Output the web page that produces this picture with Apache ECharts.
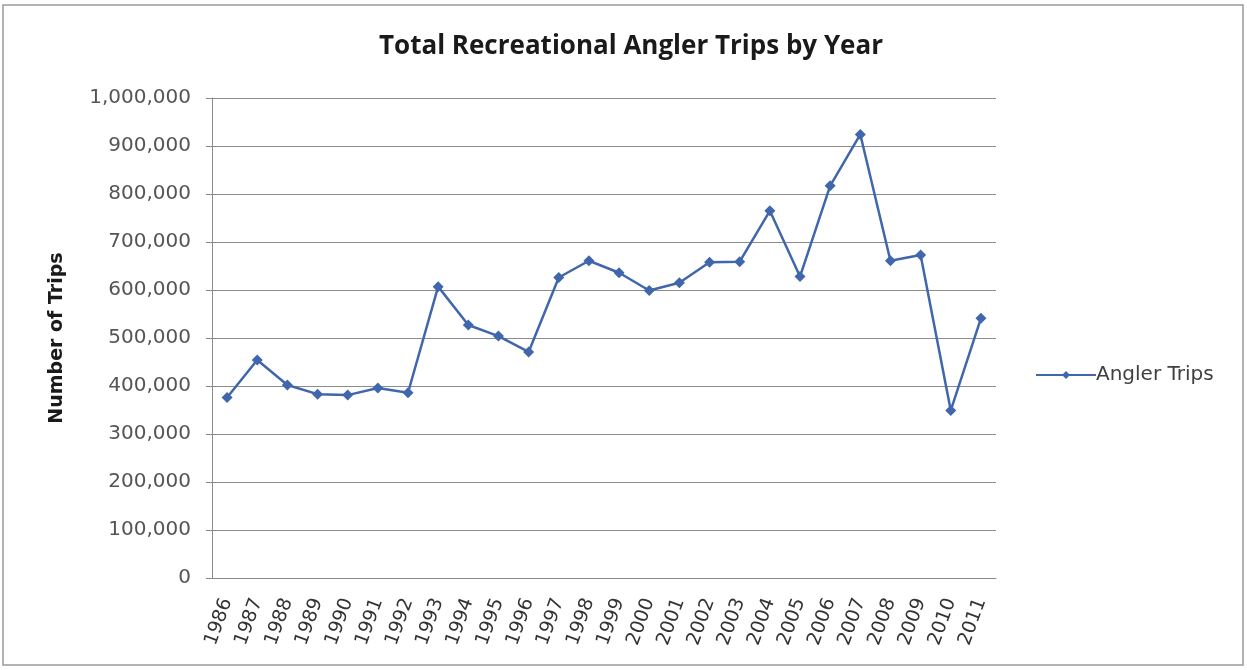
<!DOCTYPE html>
<html>
<head>
<meta charset="utf-8">
<script src="https://cdn.jsdelivr.net/npm/echarts@6/dist/echarts.min.js"></script>
<style>
  html, body { margin: 0; padding: 0; background: #fff; }
  #chart { width: 1247px; height: 670px; }
</style>
</head>
<body>
<div id="chart"></div>
<script>
// Yearly recreational angler trip totals
const years = ['1986','1987','1988','1989','1990','1991','1992','1993','1994','1995','1996','1997','1998',
               '1999','2000','2001','2002','2003','2004','2005','2006','2007','2008','2009','2010','2011'];
const anglerTrips = [376000, 454000, 402000, 383000, 381000, 396000, 386000, 607000, 527000, 504000, 471000, 626000, 661000,
                     636000, 599000, 615000, 658000, 659000, 765000, 628000, 817000, 924000, 661000, 673000, 349000, 541000];
const seriesName = 'Angler Trips';
const chartTitle = 'Total Recreational Angler Trips by Year';
const yAxisName = 'Number of Trips';

const titleFont = '"Open Sans", "Noto Sans", sans-serif';
const bodyFont = '"DejaVu Sans", "Noto Sans", sans-serif';
const lineColor = '#4066ab';

const chart = echarts.init(document.getElementById('chart'), null, { renderer: 'canvas' });
chart.setOption({
  backgroundColor: '#ffffff',
  animation: false,
  graphic: [{
    type: 'rect',
    shape: { x: 3, y: 5, width: 1240, height: 660 },
    style: { fill: 'none', stroke: '#9a9a9a', lineWidth: 1.5 },
    silent: true
  }],
  title: {
    text: chartTitle,
    left: 626,
    textAlign: 'center',
    top: 29,
    textStyle: { fontFamily: titleFont, fontSize: 26, fontWeight: 'bold', color: '#1a1a1a' }
  },
  legend: {
    data: [seriesName],
    orient: 'vertical',
    left: 1030,
    top: 360,
    itemWidth: 60,
    itemHeight: 10,
    itemGap: 0,
    textStyle: { fontFamily: bodyFont, fontSize: 20, color: '#404040', padding: [0, 0, 0, -5] }
  },
  grid: { left: 212, right: 251, top: 98, bottom: 92, containLabel: false },
  xAxis: {
    type: 'category',
    data: years,
    boundaryGap: true,
    axisLine: { lineStyle: { color: '#8a8a8a', width: 1 } },
    axisTick: { show: false },
    axisLabel: {
      rotate: 70,
      interval: 0,
      margin: 21,
      fontFamily: bodyFont,
      fontSize: 19,
      color: '#333333'
    }
  },
  yAxis: {
    type: 'value',
    min: 0,
    max: 1000000,
    interval: 100000,
    name: yAxisName,
    nameLocation: 'middle',
    nameGap: 145,
    nameTextStyle: { fontFamily: bodyFont, fontSize: 19, fontWeight: 'bold', color: '#1a1a1a' },
    axisLine: { show: true, lineStyle: { color: '#8a8a8a', width: 1 } },
    axisTick: { show: true, length: 6, lineStyle: { color: '#8a8a8a' } },
    splitLine: { lineStyle: { color: '#8c8c8c', width: 1 } },
    axisLabel: {
      margin: 21,
      fontFamily: bodyFont,
      fontSize: 20,
      color: '#555555',
      formatter: v => v.toLocaleString('en-US')
    }
  },
  series: [{
    name: seriesName,
    type: 'line',
    data: anglerTrips,
    symbol: 'diamond',
    symbolSize: 11,
    lineStyle: { color: lineColor, width: 2.5 },
    itemStyle: { color: lineColor }
  }]
});
</script>
</body>
</html>
